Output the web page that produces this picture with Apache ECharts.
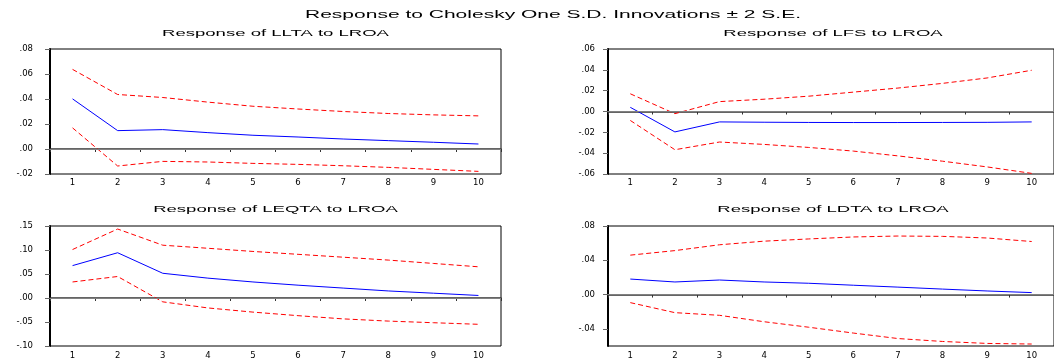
<!DOCTYPE html>
<html>
<head>
<meta charset="utf-8">
<script src="https://cdn.jsdelivr.net/npm/echarts@6/dist/echarts.min.js"></script>
<style>
  html, body { margin: 0; padding: 0; background: #fff; }
  #chart { width: 1054px; height: 360px; }
</style>
</head>
<body>
<div id="chart"></div>
<script>
// periods on the x axis
const steps = ['1', '2', '3', '4', '5', '6', '7', '8', '9', '10'];

// Response of LLTA to LROA
const lltaResp = [0.0401, 0.0147, 0.0155, 0.0131, 0.0110, 0.0096, 0.0080, 0.0067, 0.0054, 0.0040];
const lltaUpper = [0.0637, 0.0436, 0.0412, 0.0375, 0.0342, 0.0320, 0.0300, 0.0284, 0.0273, 0.0265];
const lltaLower = [0.0169, -0.0136, -0.0099, -0.0104, -0.0115, -0.0123, -0.0134, -0.0147, -0.0163, -0.0179];

// Response of LFS to LROA
const lfsResp = [0.0040, -0.0196, -0.0100, -0.0103, -0.0105, -0.0106, -0.0106, -0.0105, -0.0104, -0.0100];
const lfsUpper = [0.0170, -0.0021, 0.0095, 0.0118, 0.0147, 0.0186, 0.0225, 0.0270, 0.0322, 0.0396];
const lfsLower = [-0.0086, -0.0367, -0.0293, -0.0316, -0.0345, -0.0380, -0.0426, -0.0477, -0.0532, -0.0594];

// Response of LEQTA to LROA
const leqtaResp = [0.0675, 0.0943, 0.0515, 0.0414, 0.0334, 0.0267, 0.0207, 0.0147, 0.0100, 0.0053];
const leqtaUpper = [0.1010, 0.1437, 0.1100, 0.1036, 0.0970, 0.0910, 0.0850, 0.0790, 0.0720, 0.0650];
const leqtaLower = [0.0334, 0.0448, -0.0080, -0.0207, -0.0294, -0.0368, -0.0435, -0.0481, -0.0515, -0.0548];

// Response of LDTA to LROA
const ldtaResp = [0.0181, 0.0147, 0.0170, 0.0147, 0.0132, 0.0109, 0.0087, 0.0064, 0.0042, 0.0023];
const ldtaUpper = [0.0460, 0.0513, 0.0581, 0.0623, 0.0649, 0.0672, 0.0683, 0.0679, 0.0660, 0.0619];
const ldtaLower = [-0.0094, -0.0211, -0.0242, -0.0317, -0.0381, -0.0449, -0.0513, -0.0547, -0.0570, -0.0577];

const mainTitle = 'Response to Cholesky One S.D. Innovations \u00b1 2 S.E.';
const panelTitles = [
    'Response of LLTA to LROA',
    'Response of LFS to LROA',
    'Response of LEQTA to LROA',
    'Response of LDTA to LROA'
];

const panels = [
    { resp: lltaResp, up: lltaUpper, lo: lltaLower, min: -0.02, max: 0.08, step: 0.02 },
    { resp: lfsResp, up: lfsUpper, lo: lfsLower, min: -0.06, max: 0.06, step: 0.02 },
    { resp: leqtaResp, up: leqtaUpper, lo: leqtaLower, min: -0.10, max: 0.15, step: 0.05 },
    { resp: ldtaResp, up: ldtaUpper, lo: ldtaLower, min: -0.06, max: 0.08, step: 0.02,
      ticks: [-0.04, 0, 0.04, 0.08] }
];

// plot boxes (left, top, width, height)
const boxes = [
    [50, 49, 451, 125],
    [608, 49, 450, 125],
    [50, 226, 451, 124],
    [608, 226, 450, 124]
];

const chart = echarts.init(document.getElementById('chart'));

// EViews style labels: .08, .00, -.02
function fmt(v) {
    const s = Math.abs(v).toFixed(2).replace(/^0/, '');
    return (v < -1e-9 ? '-' : '') + s;
}

const grids = [], xAxes = [], yAxes = [], series = [], graphics = [];

panels.forEach((p, i) => {
    const b = boxes[i];
    grids.push({
        left: b[0], top: b[1], width: b[2], height: b[3],
        show: true, borderColor: '#000', borderWidth: 1, backgroundColor: 'transparent'
    });
    xAxes.push({
        type: 'category', gridIndex: i, data: steps, boundaryGap: true,
        axisLine: { lineStyle: { color: '#333', width: 1.5 } },
        axisTick: { show: true, length: 3, lineStyle: { color: '#333' } },
        axisLabel: { color: '#000', fontSize: 8.5, fontFamily: 'DejaVu Sans', margin: i < 2 ? 4 : 5 },
        splitLine: { show: false }
    });
    const y = {
        type: 'value', gridIndex: i, min: p.min, max: p.max, interval: p.step,
        axisLine: { show: true, onZero: false, lineStyle: { color: '#000', width: 2 } },
        axisTick: { show: true, length: 5, lineStyle: { color: '#666' } },
        axisLabel: { color: '#000', fontSize: 8.5, fontFamily: 'DejaVu Sans',
                     margin: i % 2 === 0 ? 17 : 13, formatter: fmt },
        splitLine: { show: false }
    };
    if (p.ticks) {
        y.axisLabel.customValues = p.ticks;
        y.axisTick.customValues = p.ticks;
    }
    yAxes.push(y);

    series.push({
        type: 'line', xAxisIndex: i, yAxisIndex: i, data: p.resp,
        showSymbol: false, symbol: 'none', silent: true,
        lineStyle: { color: '#0000ff', width: 1 },
        markLine: {
            silent: true, symbol: ['none', 'none'], label: { show: false },
            lineStyle: { color: '#808080', type: 'solid', width: 1 },
            data: [{ yAxis: 0 }]
        }
    });
    [p.up, p.lo].forEach(band => {
        series.push({
            type: 'line', xAxisIndex: i, yAxisIndex: i, data: band,
            showSymbol: false, symbol: 'none', silent: true,
            lineStyle: { color: '#ff0000', width: 1, type: [5, 3] }
        });
    });

    // panel title, stretched like the source graph
    graphics.push({
        type: 'text', x: b[0] + b[2] / 2, y: i < 2 ? 33.5 : 209.5, scaleX: 1.95,
        style: {
            text: panelTitles[i], fill: '#000', fontSize: 9.5,
            fontFamily: 'Liberation Sans, Arial', align: 'center', verticalAlign: 'middle'
        }
    });
});

graphics.push({
    type: 'text', x: 553, y: 15.5, scaleX: 2.1,
    style: {
        text: mainTitle, fill: '#000', fontSize: 10,
        fontFamily: 'Liberation Sans, Arial', align: 'center', verticalAlign: 'middle'
    }
});

chart.setOption({
    animation: false,
    backgroundColor: '#fff',
    grid: grids,
    xAxis: xAxes,
    yAxis: yAxes,
    series: series,
    graphic: graphics
});
</script>
</body>
</html>
